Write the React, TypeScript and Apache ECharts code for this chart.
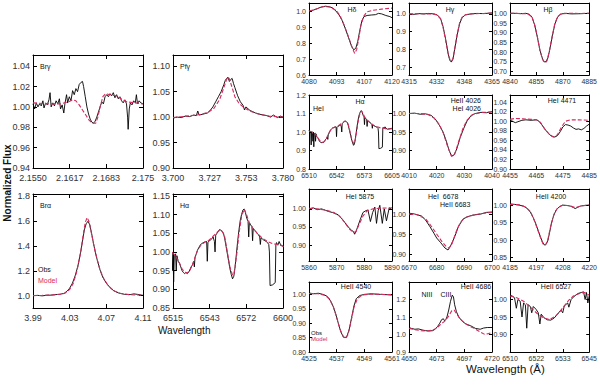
import { useEffect, useRef } from "react";
import * as echarts from "echarts";

type Pt = [number, number];

// ---------------- Left block ----------------
const brgXTicks = [2.155, 2.1616667, 2.1683333, 2.175];
const brgXLabels = ["2.1550", "2.1617", "2.1683", "2.175"];
const brgYTicks = [0.94, 0.96, 0.98, 1.0, 1.02, 1.04];
const brgYLabels = ["0.94", "0.96", "0.98", "1.00", "1.02", "1.04"];
const brgObs: Pt[] = [[2.1550,1.003],[2.1553,0.998],[2.1556,1.004],[2.1559,1.000],[2.1562,1.003],[2.1565,1.001],[2.1568,1.006],[2.1570,0.999],[2.1573,1.004],[2.1576,1.002],[2.1579,1.007],[2.1581,1.014],[2.1583,1.000],[2.1586,1.004],[2.1589,1.001],[2.1592,1.006],[2.1595,1.003],[2.1598,1.008],[2.1600,0.998],[2.1603,1.002],[2.1606,0.994],[2.1608,1.003],[2.1611,1.012],[2.1613,1.004],[2.1616,1.010],[2.1619,1.006],[2.1622,1.016],[2.1625,1.012],[2.1628,1.018],[2.1631,1.015],[2.1634,1.022],[2.1637,1.024],[2.1640,1.025],[2.1642,1.020],[2.1645,1.010],[2.1648,1.000],[2.1651,0.993],[2.1654,0.988],[2.1657,0.985],[2.1660,0.984],[2.1663,0.986],[2.1666,0.990],[2.1669,0.995],[2.1672,1.000],[2.1675,1.005],[2.1678,1.003],[2.1681,1.010],[2.1684,1.012],[2.1687,1.010],[2.1690,1.013],[2.1693,1.011],[2.1696,1.014],[2.1699,1.009],[2.1702,1.012],[2.1705,1.008],[2.1708,1.010],[2.1711,1.006],[2.1714,1.004],[2.1717,1.007],[2.1720,1.003],[2.1722,0.990],[2.1723,0.978],[2.1725,0.998],[2.1727,1.004],[2.1730,1.002],[2.1733,1.006],[2.1736,1.004],[2.1738,1.012],[2.1740,1.003],[2.1743,1.006],[2.1746,1.004],[2.1750,1.003]];
const brgModel: Pt[] = [[2.1550,1.004],[2.1580,1.003],[2.1600,1.003],[2.1615,1.005],[2.1622,1.007],[2.1628,1.006],[2.1634,1.002],[2.1640,0.997],[2.1646,0.992],[2.1652,0.987],[2.1658,0.984],[2.1664,0.984],[2.1668,0.990],[2.1672,1.000],[2.1677,1.010],[2.1682,1.013],[2.1690,1.012],[2.1700,1.011],[2.1710,1.008],[2.1720,1.005],[2.1735,1.004],[2.1750,1.003]];

const pfgXTicks = [3.7, 3.7266667, 3.7533333, 3.78];
const pfgXLabels = ["3.700", "3.727", "3.753", "3.780"];
const pfgYTicks = [0.9, 0.95, 1.0, 1.05, 1.1];
const pfgYLabels = ["0.90", "0.95", "1.00", "1.05", "1.10"];
const pfgObs: Pt[] = [[3.700,0.998],[3.703,1.000],[3.706,0.999],[3.709,1.002],[3.712,1.001],[3.715,1.004],[3.717,1.003],[3.718,1.012],[3.719,1.004],[3.722,1.006],[3.725,1.008],[3.727,1.013],[3.729,1.020],[3.731,1.030],[3.733,1.040],[3.735,1.050],[3.737,1.064],[3.738,1.072],[3.739,1.076],[3.740,1.078],[3.741,1.070],[3.742,1.074],[3.743,1.076],[3.744,1.066],[3.745,1.058],[3.747,1.042],[3.749,1.030],[3.751,1.023],[3.752,1.014],[3.753,1.020],[3.756,1.013],[3.760,1.008],[3.764,1.005],[3.768,1.003],[3.771,1.000],[3.773,1.004],[3.776,0.999],[3.778,1.002],[3.780,1.000]];
const pfgModel: Pt[] = [[3.700,0.999],[3.710,1.002],[3.720,1.005],[3.726,1.010],[3.730,1.018],[3.734,1.035],[3.737,1.058],[3.739,1.074],[3.740,1.079],[3.741,1.075],[3.743,1.058],[3.745,1.040],[3.748,1.027],[3.752,1.018],[3.756,1.012],[3.762,1.006],[3.770,1.002],[3.780,1.000]];

const braXTicks = [3.99, 4.03, 4.07, 4.11];
const braXLabels = ["3.99", "4.03", "4.07", "4.11"];
const braYTicks = [1.0, 1.2, 1.4, 1.6, 1.8];
const braYLabels = ["1.0", "1.2", "1.4", "1.6", "1.8"];
const braObs: Pt[] = [[3.990,1.000],[3.995,1.002],[4.000,0.998],[4.005,1.003],[4.010,1.004],[4.015,1.008],[4.020,1.012],[4.024,1.018],[4.027,1.035],[4.030,1.06],[4.033,1.10],[4.036,1.16],[4.039,1.24],[4.042,1.35],[4.044,1.44],[4.046,1.53],[4.048,1.58],[4.050,1.60],[4.052,1.57],[4.054,1.50],[4.056,1.42],[4.058,1.35],[4.060,1.29],[4.063,1.21],[4.066,1.15],[4.070,1.10],[4.074,1.065],[4.078,1.04],[4.083,1.022],[4.090,1.010],[4.096,1.008],[4.100,1.014],[4.104,1.010],[4.110,1.002]];
const braModel: Pt[] = [[3.990,1.000],[4.000,1.002],[4.010,1.005],[4.020,1.011],[4.025,1.020],[4.030,1.05],[4.034,1.10],[4.038,1.20],[4.042,1.35],[4.045,1.50],[4.047,1.59],[4.049,1.63],[4.051,1.60],[4.053,1.53],[4.056,1.42],[4.059,1.32],[4.063,1.21],[4.067,1.14],[4.072,1.08],[4.078,1.04],[4.085,1.018],[4.095,1.008],[4.110,1.002]];

const haLXTicks = [6515, 6543.3333, 6571.6667, 6600];
const haLXLabels = ["6515", "6543", "6572", "6600"];
const haLYTicks = [0.85, 0.9, 0.95, 1.0, 1.05, 1.1, 1.15];
const haLYLabels = ["0.85", "0.90", "0.95", "1.00", "1.05", "1.10", "1.15"];
// H-alpha spectrum (shared by left panel and HeI/Halpha panel)
const haObs: Pt[] = [[6510,1.01],[6511,1.0],[6512,1.005],[6512.5,0.93],[6513,1.0],[6514,0.99],[6514.5,0.95],[6515,1.0],[6515.5,0.92],[6516,0.99],[6517,0.995],[6517.5,0.95],[6518,0.99],[6519,0.975],[6520,0.97],[6521,0.96],[6522,0.95],[6523,0.945],[6524,0.942],[6525,0.945],[6526,0.942],[6527,0.945],[6528,0.952],[6529,0.96],[6530,0.965],[6531,0.975],[6531.5,0.96],[6532,0.985],[6533,0.995],[6534,1.005],[6535,1.012],[6536,1.018],[6537,1.022],[6538,1.024],[6539,1.026],[6540,1.027],[6541,1.028],[6541.5,0.975],[6542,1.025],[6543,1.03],[6544,1.032],[6545,1.035],[6546,1.04],[6547,1.028],[6547.5,1.0],[6548,1.045],[6549,1.05],[6550,1.055],[6551,1.06],[6552,1.058],[6553,1.055],[6554,1.05],[6555,1.035],[6556,1.015],[6557,0.995],[6558,0.975],[6559,0.955],[6560,0.94],[6561,0.928],[6562,0.935],[6563,0.96],[6564,0.995],[6565,1.03],[6566,1.06],[6567,1.085],[6568,1.1],[6569,1.112],[6570,1.115],[6571,1.105],[6572,1.09],[6573,1.082],[6573.5,1.04],[6574,1.078],[6575,1.072],[6576,1.068],[6576.5,1.03],[6577,1.063],[6578,1.058],[6579,1.055],[6580,1.05],[6581,1.046],[6582,1.04],[6582.5,1.02],[6583,1.038],[6584,1.035],[6585,1.032],[6586,1.03],[6587,1.028],[6588,1.025],[6589,1.02],[6589.5,1.0],[6590,0.91],[6592,0.912],[6594,0.918],[6594.5,1.02],[6595,1.025],[6596,1.018],[6597,1.028],[6598,1.02],[6600,1.015],[6602,1.018],[6605,1.02]];
const haModel: Pt[] = [[6510,1.005],[6514,1.0],[6517,0.99],[6520,0.97],[6522,0.955],[6524,0.946],[6526,0.944],[6528,0.95],[6530,0.965],[6532,0.985],[6534,1.005],[6537,1.02],[6540,1.027],[6543,1.032],[6546,1.042],[6549,1.052],[6551,1.058],[6553,1.055],[6555,1.04],[6557,1.0],[6559,0.96],[6561,0.938],[6562,0.94],[6563,0.962],[6564.5,1.0],[6566,1.05],[6568,1.095],[6570,1.115],[6572,1.098],[6574,1.078],[6577,1.062],[6580,1.05],[6584,1.037],[6588,1.028],[6592,1.022],[6596,1.02],[6600,1.015],[6605,1.018]];

// ---------------- Right block ----------------
const hdXTicks = [4080, 4093.3333, 4106.6667, 4120];
const hdXLabels = ["4080", "4093", "4107", "4120"];
const hdYTicks = [0.6, 0.7, 0.8, 0.9, 1.0];
const hdYLabels = ["0.6", "0.7", "0.8", "0.9", "1.0"];
const hdObs: Pt[] = [[4080,0.996],[4082,1.005],[4084,1.015],[4086,1.025],[4088,1.03],[4090,1.026],[4091.5,1.018],[4093,1.0],[4094.5,0.975],[4096,0.94],[4097.5,0.89],[4099,0.835],[4100.5,0.78],[4101.5,0.758],[4102.5,0.765],[4103.5,0.81],[4104.5,0.88],[4105.5,0.94],[4106.5,0.965],[4108,0.972],[4110,0.975],[4112,0.977],[4113.5,0.985],[4115,0.982],[4117,0.972],[4119,0.965],[4120,0.958]];
const hdModel: Pt[] = [[4080,1.0],[4083,1.01],[4087,1.028],[4090,1.025],[4093,1.005],[4095,0.97],[4097,0.91],[4099,0.84],[4101,0.765],[4102,0.735],[4103,0.76],[4104,0.83],[4105,0.91],[4106.5,0.97],[4108,0.995],[4111,1.005],[4115,1.012],[4120,1.018]];

const hgXTicks = [4315, 4331.6667, 4348.3333, 4365];
const hgXLabels = ["4315", "4332", "4348", "4365"];
const hgYTicks = [0.7, 0.8, 0.9, 1.0];
const hgYLabels = ["0.7", "0.8", "0.9", "1.0"];
const hgObs: Pt[] = [[4315,1.0],[4318,0.998],[4321,1.002],[4324,1.0],[4327,1.003],[4330,1.0],[4332,0.995],[4334,0.975],[4335.5,0.93],[4337,0.86],[4338.5,0.78],[4339.5,0.74],[4340.5,0.728],[4341.5,0.745],[4342.5,0.8],[4344,0.88],[4345.5,0.945],[4347,0.98],[4349,0.995],[4352,1.0],[4356,1.003],[4360,1.002],[4365,1.006]];
const hgModel: Pt[] = [[4315,1.0],[4320,1.001],[4325,1.001],[4330,0.999],[4332,0.994],[4334,0.972],[4335.5,0.925],[4337,0.855],[4338.5,0.78],[4339.7,0.74],[4340.5,0.732],[4341.5,0.748],[4342.7,0.81],[4344,0.885],[4345.5,0.95],[4347,0.982],[4349,0.996],[4353,1.001],[4360,1.003],[4365,1.005]];

const hbXTicks = [4840, 4855, 4870, 4885];
const hbXLabels = ["4840", "4855", "4870", "4885"];
const hbYTicks = [0.7, 0.75, 0.8, 0.85, 0.9, 0.95, 1.0];
const hbYLabels = ["0.70", "0.75", "0.80", "0.85", "0.90", "0.95", "1.00"];
const hbObs: Pt[] = [[4840,1.0],[4843,1.0],[4846,0.998],[4849,1.0],[4851,0.995],[4852.5,0.98],[4854,0.94],[4855.5,0.88],[4857,0.81],[4858.5,0.765],[4859.5,0.75],[4860.5,0.752],[4861.5,0.77],[4862.5,0.81],[4864,0.88],[4865.5,0.945],[4867,0.98],[4868.5,0.995],[4871,1.0],[4875,0.997],[4880,0.998],[4885,1.0]];
const hbModel: Pt[] = [[4840,1.0],[4846,0.999],[4850,0.997],[4852.5,0.982],[4854,0.942],[4855.5,0.882],[4857,0.81],[4858.5,0.762],[4860,0.745],[4861,0.755],[4862.5,0.812],[4864,0.885],[4865.5,0.948],[4867,0.982],[4869,0.997],[4873,1.0],[4880,0.999],[4885,1.0]];

const hehaXTicks = [6510, 6541.6667, 6573.3333, 6605];
const hehaXLabels = ["6510", "6542", "6573", "6605"];
const hehaYTicks = [0.8, 0.9, 1.0, 1.1, 1.2];
const hehaYLabels = ["0.8", "0.9", "1.0", "1.1", "1.2"];

const he4026XTicks = [4010, 4020, 4030, 4040];
const he4026XLabels = ["4010", "4020", "4030", "4040"];
const he4026YTicks = [0.9, 0.95, 1.0];
const he4026YLabels = ["0.90", "0.95", "1.00"];
const he4026Obs: Pt[] = [[4010,1.0],[4012,1.001],[4014,0.998],[4016,0.999],[4018,0.995],[4019.5,0.985],[4021,0.968],[4022.3,0.95],[4023.5,0.925],[4024.5,0.9],[4025.4,0.885],[4026.3,0.888],[4027.3,0.905],[4028.5,0.935],[4029.8,0.96],[4031,0.98],[4032.5,0.995],[4034,1.0],[4036,1.003],[4038,1.002],[4040,1.005]];
const he4026Model: Pt[] = [[4010,1.0],[4014,1.0],[4017,0.997],[4019,0.988],[4021,0.97],[4022.5,0.945],[4024,0.91],[4025.4,0.884],[4026.5,0.89],[4028,0.925],[4029.5,0.96],[4031,0.982],[4033,0.997],[4036,1.003],[4040,1.004]];

const he4471XTicks = [4455, 4465, 4475, 4485];
const he4471XLabels = ["4455", "4465", "4475", "4485"];
const he4471YTicks = [0.9, 0.92, 0.94, 0.96, 0.98, 1.0, 1.02, 1.04];
const he4471YLabels = ["0.90", "0.92", "0.94", "0.96", "0.98", "1.00", "1.02", "1.04"];
const he4471Obs: Pt[] = [[4455,1.002],[4456,1.0],[4457,0.997],[4458,0.999],[4459.5,1.002],[4461,1.003],[4463,1.002],[4465,1.003],[4466,1.0],[4467,0.993],[4468,0.985],[4469,0.978],[4470,0.972],[4471,0.968],[4472,0.967],[4473,0.97],[4474,0.978],[4475,0.988],[4476,0.993],[4477,0.992],[4478,0.99],[4479,0.986],[4480,0.983],[4481,0.984],[4482,0.982],[4483,0.985],[4484,0.99],[4485,0.994]];
const he4471Model: Pt[] = [[4455,1.004],[4457,1.006],[4460,1.005],[4463,1.004],[4465,1.003],[4466.5,0.998],[4468,0.985],[4470,0.972],[4471.5,0.967],[4473,0.972],[4474.5,0.988],[4476,1.0],[4478,1.003],[4481,1.003],[4485,1.002]];

const he5875XTicks = [5860, 5870, 5880, 5890];
const he5875XLabels = ["5860", "5870", "5880", "5890"];
const he5875YTicks = [0.9, 0.95, 1.0];
const he5875YLabels = ["0.90", "0.95", "1.00"];
const he5875Obs: Pt[] = [[5860,1.0],[5861.5,1.003],[5863,0.998],[5864.5,1.0],[5866,0.996],[5867,0.993],[5868.5,0.99],[5870.5,0.984],[5872,0.972],[5873,0.962],[5874,0.952],[5874.8,0.945],[5875.5,0.94],[5876,0.938],[5876.5,0.93],[5877.2,0.942],[5877.7,0.953],[5878.5,0.97],[5879.5,0.99],[5880.5,0.995],[5881.3,0.997],[5882.2,0.965],[5883,0.99],[5883.8,1.005],[5884.4,0.96],[5885,0.995],[5885.6,1.01],[5886.5,0.96],[5887.2,1.0],[5888,0.967],[5889,1.003],[5890,0.998]];
const he5875Model: Pt[] = [[5860,1.002],[5863,1.0],[5866,0.997],[5869,0.99],[5871,0.98],[5873,0.962],[5874.5,0.945],[5876,0.935],[5877,0.937],[5878,0.955],[5879.5,0.98],[5881,0.995],[5883,1.0],[5886,1.002],[5890,1.003]];

const he6678XTicks = [6670, 6680, 6690, 6700];
const he6678XLabels = ["6670", "6680", "6690", "6700"];
const he6678YTicks = [0.9, 0.95, 1.0];
const he6678YLabels = ["0.90", "0.95", "1.00"];
const he6678Obs: Pt[] = [[6670,1.002],[6672,1.0],[6674.5,0.995],[6676,0.985],[6677.6,0.968],[6679,0.952],[6680,0.94],[6681.5,0.928],[6683,0.915],[6684.1,0.91],[6685,0.92],[6686,0.935],[6687,0.952],[6687.8,0.968],[6689.5,0.987],[6691,0.993],[6693,0.997],[6696,1.0],[6698,1.004],[6700,1.005]];
const he6678Model: Pt[] = [[6670,1.0],[6673,0.998],[6676,0.988],[6678,0.97],[6680,0.95],[6682,0.93],[6683.5,0.918],[6684.5,0.915],[6685.5,0.925],[6687,0.955],[6688.5,0.978],[6690,0.99],[6693,0.997],[6697,1.002],[6700,1.004]];

const he4200XTicks = [4185, 4196.6667, 4208.3333, 4220];
const he4200XLabels = ["4185", "4197", "4208", "4220"];
const he4200YTicks = [0.85, 0.9, 0.95, 1.0];
const he4200YLabels = ["0.85", "0.90", "0.95", "1.00"];
const he4200Obs: Pt[] = [[4185,1.003],[4187,1.002],[4189,1.0],[4191,0.997],[4192.5,0.991],[4194,0.98],[4195.2,0.965],[4196.3,0.948],[4197.4,0.928],[4198.4,0.91],[4199.3,0.895],[4200.2,0.886],[4201,0.888],[4201.8,0.9],[4202.6,0.925],[4203.3,0.948],[4204.3,0.97],[4205.4,0.986],[4206.8,0.995],[4208.2,1.0],[4210,0.999],[4211.7,0.997],[4213,0.993],[4213.8,0.99],[4215,0.994],[4216,0.997],[4218,0.999],[4220,1.0]];
const he4200Model: Pt[] = [[4185,1.002],[4189,1.001],[4192,0.994],[4194,0.982],[4196,0.952],[4198,0.915],[4199.5,0.89],[4200.4,0.884],[4201.5,0.895],[4203,0.94],[4204.5,0.975],[4206,0.992],[4208,0.999],[4211,0.999],[4214,0.993],[4217,0.998],[4220,1.0]];

const he4540XTicks = [4525, 4537, 4549, 4561];
const he4540XLabels = ["4525", "4537", "4549", "4561"];
const he4540YTicks = [0.8, 0.85, 0.9, 0.95, 1.0];
const he4540YLabels = ["0.80", "0.85", "0.90", "0.95", "1.00"];
const he4540Obs: Pt[] = [[4525,1.005],[4527,1.002],[4529,1.004],[4531,1.0],[4532.5,0.995],[4533.5,0.988],[4534.5,0.975],[4535.5,0.958],[4536.5,0.935],[4537.7,0.9],[4538.8,0.87],[4539.9,0.852],[4540.8,0.85],[4541.6,0.858],[4542.5,0.88],[4543.5,0.92],[4544.5,0.96],[4545.5,0.985],[4547,0.996],[4549,1.0],[4552,1.002],[4556,1.0],[4561,0.998]];
const he4540Model: Pt[] = [[4525,1.003],[4529,1.002],[4532,0.997],[4534,0.982],[4535.5,0.958],[4537,0.92],[4538.5,0.878],[4540,0.852],[4541,0.847],[4542,0.862],[4543.2,0.905],[4544.5,0.955],[4546,0.985],[4548,0.998],[4552,1.001],[4561,0.999]];

const he4686XTicks = [4650, 4673.3333, 4696.6667, 4720];
const he4686XLabels = ["4650", "4673", "4697", "4720"];
const he4686YTicks = [0.9, 1.0, 1.1, 1.2];
const he4686YLabels = ["0.9", "1.0", "1.1", "1.2"];
const he4686Obs: Pt[] = [[4650,1.04],[4652,1.035],[4655,1.03],[4658,1.032],[4661,1.026],[4664,1.022],[4667,1.02],[4670,1.022],[4672,1.03],[4674,1.045],[4676,1.065],[4677.5,1.085],[4679,1.09],[4680,1.078],[4681,1.085],[4682,1.1],[4683.5,1.14],[4685,1.19],[4686.5,1.225],[4687.5,1.215],[4688.5,1.17],[4690,1.13],[4692,1.1],[4695,1.075],[4698,1.06],[4702,1.05],[4706,1.035],[4710,1.03],[4713,1.037],[4716,1.04],[4720,1.04]];
const he4686Model: Pt[] = [[4650,1.035],[4655,1.028],[4660,1.022],[4665,1.02],[4670,1.025],[4674,1.04],[4677,1.06],[4680,1.075],[4683,1.1],[4686,1.135],[4688,1.14],[4690,1.12],[4693,1.09],[4697,1.065],[4701,1.048],[4705,1.035],[4710,1.015],[4714,1.0],[4717,1.005],[4720,1.012]];

const he6527XTicks = [6510, 6521.6667, 6533.3333, 6545];
const he6527XLabels = ["6510", "6522", "6533", "6545"];
const he6527YTicks = [0.9, 0.95, 1.0];
const he6527YLabels = ["0.90", "0.95", "1.00"];
const he6527Obs: Pt[] = [[6510,1.012],[6511,1.01],[6512,1.005],[6512.8,0.975],[6513.5,1.0],[6514.5,0.995],[6515.3,0.95],[6516,0.99],[6516.8,0.985],[6517.4,0.918],[6518,0.985],[6519,0.98],[6519.6,0.962],[6520.3,0.98],[6521.5,0.972],[6522.5,0.962],[6523.2,0.93],[6523.8,0.958],[6525,0.948],[6526.5,0.942],[6528,0.941],[6529.5,0.947],[6531,0.958],[6532.5,0.97],[6533.3,0.962],[6534,0.982],[6535.5,0.99],[6536,0.978],[6537,1.0],[6538.5,1.01],[6540,1.017],[6541.5,1.02],[6542.5,1.022],[6543.2,1.0],[6543.8,1.02],[6544.4,0.99],[6545,1.01]];
const he6527Model: Pt[] = [[6510,1.01],[6513,1.005],[6516,0.995],[6519,0.978],[6522,0.96],[6525,0.947],[6527.5,0.943],[6530,0.952],[6532,0.965],[6534,0.982],[6536,0.998],[6538,1.01],[6541,1.018],[6543,1.02],[6545,1.012]];

// ---------------- Layout ----------------
type Panel = {
  box: [number, number, number, number];
  x: [number, number];
  y: [number, number];
  xt: number[]; xl: string[];
  yt: number[]; yl: string[];
  obs: Pt[]; model: Pt[];
  big: boolean;
};

const COLS = [309, 409, 510];
const ROWS = [3, 95, 189, 282];
const RH = [72, 74, 72, 70];
const CW = 83;
const rb = (r: number, c: number): [number, number, number, number] => [COLS[c], ROWS[r], CW, RH[r]];

const panels: Panel[] = [
  { box: [33, 55, 110, 113], x: [2.155, 2.175], y: [0.94, 1.051], xt: brgXTicks, xl: brgXLabels, yt: brgYTicks, yl: brgYLabels, obs: brgObs, model: brgModel, big: true },
  { box: [173, 55, 110, 113], x: [3.7, 3.78], y: [0.9, 1.122], xt: pfgXTicks, xl: pfgXLabels, yt: pfgYTicks, yl: pfgYLabels, obs: pfgObs, model: pfgModel, big: true },
  { box: [33, 194, 110, 114], x: [3.99, 4.11], y: [0.9, 1.82], xt: braXTicks, xl: braXLabels, yt: braYTicks, yl: braYLabels, obs: braObs, model: braModel, big: true },
  { box: [173, 194, 110, 114], x: [6515, 6600], y: [0.85, 1.155], xt: haLXTicks, xl: haLXLabels, yt: haLYTicks, yl: haLYLabels, obs: haObs, model: haModel, big: true },
  { box: rb(0, 0), x: [4080, 4120], y: [0.6, 1.05], xt: hdXTicks, xl: hdXLabels, yt: hdYTicks, yl: hdYLabels, obs: hdObs, model: hdModel, big: false },
  { box: rb(0, 1), x: [4315, 4365], y: [0.655, 1.062], xt: hgXTicks, xl: hgXLabels, yt: hgYTicks, yl: hgYLabels, obs: hgObs, model: hgModel, big: false },
  { box: rb(0, 2), x: [4840, 4885], y: [0.683, 1.053], xt: hbXTicks, xl: hbXLabels, yt: hbYTicks, yl: hbYLabels, obs: hbObs, model: hbModel, big: false },
  { box: rb(1, 0), x: [6510, 6605], y: [0.8, 1.2], xt: hehaXTicks, xl: hehaXLabels, yt: hehaYTicks, yl: hehaYLabels, obs: haObs, model: haModel, big: false },
  { box: rb(1, 1), x: [4010, 4040], y: [0.85, 1.05], xt: he4026XTicks, xl: he4026XLabels, yt: he4026YTicks, yl: he4026YLabels, obs: he4026Obs, model: he4026Model, big: false },
  { box: rb(1, 2), x: [4455, 4485], y: [0.9, 1.055], xt: he4471XTicks, xl: he4471XLabels, yt: he4471YTicks, yl: he4471YLabels, obs: he4471Obs, model: he4471Model, big: false },
  { box: rb(2, 0), x: [5860, 5890], y: [0.856, 1.055], xt: he5875XTicks, xl: he5875XLabels, yt: he5875YTicks, yl: he5875YLabels, obs: he5875Obs, model: he5875Model, big: false },
  { box: rb(2, 1), x: [6670, 6700], y: [0.8825, 1.0625], xt: he6678XTicks, xl: he6678XLabels, yt: he6678YTicks, yl: he6678YLabels, obs: he6678Obs, model: he6678Model, big: false },
  { box: rb(2, 2), x: [4185, 4220], y: [0.84, 1.046], xt: he4200XTicks, xl: he4200XLabels, yt: he4200YTicks, yl: he4200YLabels, obs: he4200Obs, model: he4200Model, big: false },
  { box: rb(3, 0), x: [4525, 4561], y: [0.8, 1.043], xt: he4540XTicks, xl: he4540XLabels, yt: he4540YTicks, yl: he4540YLabels, obs: he4540Obs, model: he4540Model, big: false },
  { box: rb(3, 1), x: [4650, 4720], y: [0.9, 1.3], xt: he4686XTicks, xl: he4686XLabels, yt: he4686YTicks, yl: he4686YLabels, obs: he4686Obs, model: he4686Model, big: false },
  { box: rb(3, 2), x: [6510, 6545], y: [0.85, 1.05], xt: he6527XTicks, xl: he6527XLabels, yt: he6527YTicks, yl: he6527YLabels, obs: he6527Obs, model: he6527Model, big: false },
];

const FONT = "'Liberation Sans', Arial, Helvetica, sans-serif";
const RED = "#d62a5e";
const LABEL = "#333333";

type Txt = { t: string; x: number; y: number; s: number; a?: "left" | "center" | "right"; c?: string; w?: string; rot?: number };
const texts: Txt[] = [
  { t: "Brγ", x: 40, y: 66, s: 7 },
  { t: "Pfγ", x: 180, y: 66, s: 7 },
  { t: "Brα", x: 40, y: 205, s: 7 },
  { t: "Hα", x: 180, y: 205, s: 7 },
  { t: "Obs", x: 38, y: 269, s: 7 },
  { t: "Model", x: 38, y: 280, s: 7, c: RED },
  { t: "Hδ", x: 352, y: 9, s: 7, a: "center" },
  { t: "Hγ", x: 450, y: 9, s: 7, a: "center" },
  { t: "Hβ", x: 548, y: 9, s: 7, a: "center" },
  { t: "HeI", x: 313, y: 108, s: 7 },
  { t: "Hα", x: 360, y: 101, s: 7, a: "center" },
  { t: "HeII 4026", x: 481, y: 100, s: 7, a: "right" },
  { t: "HeI 4026", x: 481, y: 108, s: 7, a: "right" },
  { t: "HeI 4471", x: 562, y: 100, s: 7, a: "center" },
  { t: "HeI 5875", x: 360, y: 196, s: 7, a: "center" },
  { t: "HeI  6678", x: 428, y: 196, s: 7 },
  { t: "HeII 6683", x: 440, y: 204, s: 7 },
  { t: "HeII 4200", x: 551, y: 196, s: 7, a: "center" },
  { t: "HeII 4540", x: 356, y: 286, s: 7, a: "center" },
  { t: "NIII", x: 427, y: 294, s: 7, a: "center" },
  { t: "CIII", x: 446, y: 294, s: 7, a: "center" },
  { t: "HeII 4686", x: 476, y: 286, s: 7, a: "center" },
  { t: "HeII 6527", x: 556, y: 286, s: 7, a: "center" },
  { t: "Obs", x: 311, y: 333, s: 6 },
  { t: "Model", x: 311, y: 339, s: 6, c: RED },
  { t: "Wavelength", x: 158, y: 330, s: 10 },
  { t: "Wavelength (Å)", x: 466, y: 369, s: 11.5 },
  { t: "Normalized Flux", x: 7, y: 183, s: 10, w: "bold", rot: Math.PI / 2 },
];

function buildOption() {
  const grid: any[] = [];
  const xAxis: any[] = [];
  const yAxis: any[] = [];
  const series: any[] = [];
  const fmt = (ticks: number[], labels: string[]) => (v: number) => {
    const k = ticks.findIndex((t) => Math.abs(t - v) <= 1e-6 * Math.max(1, Math.abs(t)));
    return k >= 0 ? labels[k] : "";
  };
  panels.forEach((p, i) => {
    grid.push({ left: p.box[0], top: p.box[1], width: p.box[2], height: p.box[3], containLabel: false });
    const fs = p.big ? 9 : 7;
    const tl = p.big ? 4 : 3;
    const line = { show: true, onZero: false, lineStyle: { color: "#000", width: 1 } };
    const tick = (vals: number[]) => ({ show: true, inside: true, length: tl, customValues: vals, lineStyle: { color: "#000", width: 1 } });
    const base = { type: "value", gridIndex: i, splitLine: { show: false }, axisLine: line };
    xAxis.push({
      ...base, position: "bottom", min: p.x[0], max: p.x[1], axisTick: tick(p.xt),
      axisLabel: { show: true, customValues: p.xt, formatter: fmt(p.xt, p.xl), fontSize: fs, fontFamily: FONT, color: LABEL, margin: p.big ? 5 : 3 },
    });
    xAxis.push({ ...base, position: "top", min: p.x[0], max: p.x[1], axisTick: tick(p.xt), axisLabel: { show: false } });
    yAxis.push({
      ...base, position: "left", min: p.y[0], max: p.y[1], axisTick: tick(p.yt),
      axisLabel: { show: true, customValues: p.yt, formatter: fmt(p.yt, p.yl), fontSize: fs, fontFamily: FONT, color: LABEL, margin: 3 },
    });
    yAxis.push({ ...base, position: "right", min: p.y[0], max: p.y[1], axisTick: tick(p.yt), axisLabel: { show: false } });
    series.push({
      type: "line", xAxisIndex: 2 * i, yAxisIndex: 2 * i, data: p.obs, showSymbol: false, symbol: "none",
      lineStyle: { color: "#000", width: 0.9 }, silent: true, clip: true, z: 2,
    });
    series.push({
      type: "line", xAxisIndex: 2 * i, yAxisIndex: 2 * i, data: p.model, showSymbol: false, symbol: "none",
      lineStyle: { color: RED, width: 1.1, type: [4, 2] }, silent: true, clip: true, z: 3,
    });
  });
  const graphic = texts.map((t) => ({
    type: "text",
    x: t.x,
    y: t.y,
    rotation: t.rot ?? 0,
    silent: true,
    style: {
      text: t.t,
      fontSize: t.s,
      fontFamily: FONT,
      fontWeight: t.w ?? "normal",
      fill: t.c ?? "#111",
      textAlign: t.rot ? "center" : t.a ?? "left",
      textVerticalAlign: "middle",
    },
  }));
  return { animation: false, backgroundColor: "#fff", grid, xAxis, yAxis, series, graphic };
}

export default function App() {
  const ref = useRef<HTMLDivElement>(null);
  useEffect(() => {
    if (!ref.current) return;
    const chart = echarts.init(ref.current, undefined, { renderer: "svg", width: 600, height: 385 });
    chart.setOption(buildOption() as any);
    return () => chart.dispose();
  }, []);
  return (
    <div
      ref={ref}
      style={{ position: "absolute", left: 0, top: 0, width: 600, height: 385, background: "#fff" }}
    />
  );
}
